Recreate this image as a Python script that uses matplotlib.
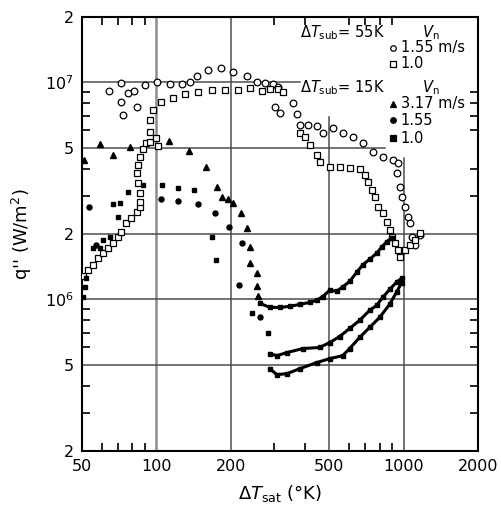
import matplotlib

matplotlib.use("Agg")

import matplotlib.pyplot as plt
from matplotlib.ticker import FixedFormatter, FixedLocator, NullFormatter


OUT_PATH = "out.png"

# dT_sub = 55 K, V_n = 1.55 m/s  (open circles)
SUB55_V155_DT = [
    64.3, 71.9, 71.9, 73.2, 76.7, 81.1, 83.4, 89.9, 100.5, 113.4,
    126.8, 136.6, 145.8, 161.5, 182.2, 203.7, 232.1, 254.9, 274.6, 295.8,
    309.8, 301.3, 315.5, 356.0, 369.5, 380.0, 409.4, 445.2, 470.6, 516.5,
    566.8, 621.9, 682.6, 749.3, 822.5, 902.7, 945.7, 936.9, 963.4, 981.5,
    1009, 1038, 1057, 1077, 1108, 1160,
]
SUB55_V155_Q = [
    9.08e6, 9.89e6, 8.08e6, 7.04e6, 8.89e6, 9.08e6, 7.66e6, 9.68e6, 1.00e7, 9.79e6,
    9.79e6, 1.00e7, 1.066e7, 1.137e7, 1.16e7, 1.112e7, 1.066e7, 1.00e7, 9.89e6, 9.79e6,
    9.48e6, 7.66e6, 7.26e6, 7.99e6, 7.11e6, 6.39e6, 6.39e6, 6.32e6, 5.87e6, 6.19e6,
    5.87e6, 5.62e6, 5.28e6, 4.79e6, 4.54e6, 4.40e6, 4.26e6, 3.83e6, 3.30e6, 2.97e6,
    2.67e6, 2.40e6, 2.25e6, 1.94e6, 1.78e6, 1.98e6,
]

# dT_sub = 55 K, V_n = 1.0 m/s  (open squares)
SUB55_V100_DT = [
    50.5, 52.8, 55.4, 58.0, 60.8, 63.7, 66.7, 69.9, 71.9, 75.3,
    78.9, 83.4, 85.8, 85.8, 85.8, 84.2, 83.4, 84.2, 85.8, 88.2,
    90.7, 94.2, 99.5, 101.4, 94.2, 94.2, 96.8, 104.3, 116.6, 130.4,
    147.2, 167.6, 189.1, 213.4, 238.8, 267.0, 287.6, 309.8, 324.4, 380.0,
    398.1, 417.1, 445.2, 457.7, 502.3, 551.2, 604.9, 663.8, 695.4, 715.2,
    742.3, 763.3, 785.0, 822.5, 853.6, 877.8, 894.3, 919.6, 945.7, 963.4,
    1009, 1057, 1108, 1160,
]
SUB55_V100_Q = [
    1.28e6, 1.36e6, 1.44e6, 1.55e6, 1.63e6, 1.72e6, 1.82e6, 1.94e6, 2.04e6, 2.25e6,
    2.37e6, 2.53e6, 2.67e6, 2.81e6, 3.10e6, 3.44e6, 3.83e6, 4.17e6, 4.54e6, 4.95e6,
    5.28e6, 5.33e6, 5.56e6, 5.11e6, 5.93e6, 6.74e6, 7.42e6, 8.08e6, 8.43e6, 8.80e6,
    8.99e6, 9.18e6, 9.18e6, 9.18e6, 9.38e6, 9.08e6, 9.28e6, 9.28e6, 8.99e6, 5.87e6,
    5.62e6, 5.16e6, 4.64e6, 4.31e6, 4.08e6, 4.08e6, 4.04e6, 4.00e6, 3.75e6, 3.48e6,
    3.20e6, 2.97e6, 2.67e6, 2.50e6, 2.27e6, 2.09e6, 1.94e6, 1.82e6, 1.69e6, 1.56e6,
    1.69e6, 1.78e6, 1.87e6, 2.02e6,
]

# dT_sub = 15 K, V_n = 3.17 m/s  (filled triangles, then dense film-boiling trace)
SUB15_V317_DT = [
    50.9, 59.1, 66.7, 78.1, 112.4, 135.3, 158.6, 175.5, 183.9, 194.5,
    203.7, 219.4, 232.1, 238.8, 238.8, 254.9, 254.9, 257.3,
]
SUB15_V317_Q = [
    4.40e6, 5.22e6, 4.64e6, 5.05e6, 5.39e6, 4.84e6, 4.08e6, 3.30e6, 2.97e6, 2.90e6,
    2.78e6, 2.50e6, 2.13e6, 1.74e6, 1.47e6, 1.32e6, 1.15e6, 1.04e6,
]
SUB15_V317_FILM_DT = [
    262.1, 287.6, 315.5, 346.2, 380.0, 417.1, 445.2, 470.6, 502.3, 536.1,
    566.8, 604.9, 645.5, 682.6, 728.6, 777.7, 814.8, 853.6, 894.3,
]
SUB15_V317_FILM_Q = [
    9.58e5, 9.18e5, 9.18e5, 9.28e5, 9.48e5, 9.68e5, 9.89e5, 1.03e6, 1.10e6, 1.09e6,
    1.14e6, 1.21e6, 1.33e6, 1.44e6, 1.53e6, 1.63e6, 1.74e6, 1.84e6, 1.92e6,
]

# dT_sub = 15 K, V_n = 1.55 m/s  (filled circles)
SUB15_V155_DT = [53.3, 57.0, 104.3, 122.2, 147.2, 172.3, 196.3, 221.5, 215.4, 262.1]
SUB15_V155_Q = [2.67e6, 1.78e6, 2.90e6, 2.84e6, 2.75e6, 2.50e6, 2.15e6, 1.82e6, 1.16e6, 8.25e5]
SUB15_V155_FILM_DT = [
    287.6, 307.0, 336.7, 390.7, 457.7, 502.3, 551.2, 604.9, 663.8, 728.6,
    777.7, 822.5, 877.8, 936.9, 981.5,
]
SUB15_V155_FILM_Q = [
    5.62e5, 5.50e5, 5.68e5, 5.93e5, 6.00e5, 6.32e5, 6.74e5, 7.34e5, 8.00e5, 8.89e5,
    9.38e5, 1.02e6, 1.11e6, 1.20e6, 1.25e6,
]

# dT_sub = 15 K, V_n = 1.0 m/s  (filled squares)
SUB15_V100_DT = [
    50.5, 51.4, 51.9, 55.4, 59.1, 60.8, 64.9, 66.7, 71.2, 69.9,
    76.7, 88.2, 105.3, 122.2, 141.7, 167.6, 173.9, 243.3, 282.4,
]
SUB15_V100_Q = [
    1.02e6, 1.14e6, 1.26e6, 1.72e6, 1.72e6, 1.87e6, 1.94e6, 2.75e6, 2.78e6, 2.40e6,
    3.13e6, 3.37e6, 3.37e6, 3.27e6, 3.20e6, 1.94e6, 1.52e6, 8.61e5, 6.96e5,
]
SUB15_V100_FILM_DT = [
    287.6, 307.0, 336.7, 380.0, 445.2, 502.3, 566.8, 604.9, 663.8, 728.6,
    799.8, 877.8, 936.9, 981.5,
]
SUB15_V100_FILM_Q = [
    4.79e5, 4.50e5, 4.54e5, 4.79e5, 5.11e5, 5.33e5, 5.50e5, 5.93e5, 6.67e5, 7.42e5,
    8.25e5, 9.48e5, 1.08e6, 1.19e6,
]

X_TICKS = [50, 100, 200, 500, 1000, 2000]
X_TICK_LABELS = ["50", "100", "200", "500", "1000", "2000"]
X_MINOR = [60, 70, 80, 90, 300, 400, 600, 700, 800, 900]

Y_TICKS = [2e5, 5e5, 1e6, 2e6, 5e6, 1e7, 2e7]
Y_TICK_LABELS = ["2", "5", r"$10^6$", "2", "5", r"$10^7$", "2"]
Y_MINOR = [3e5, 4e5, 6e5, 7e5, 8e5, 9e5, 3e6, 4e6, 6e6, 7e6, 8e6, 9e6]


def draw_grid(ax) -> None:
    grid_style = dict(color="0.3", linewidth=1.1, zorder=1)
    ax.axvline(100, color="0.55", linewidth=1.8, zorder=1)
    ax.axvline(200, **grid_style)
    ax.axvline(500, ymax=0.77, **grid_style)
    ax.axvline(1000, ymax=0.675, **grid_style)
    ax.axhline(1e7, xmax=0.55, **grid_style)
    ax.axhline(5e6, xmax=0.765, **grid_style)
    ax.axhline(2e6, **grid_style)
    ax.axhline(1e6, **grid_style)
    ax.axhline(5e5, **grid_style)


def draw_key(ax) -> None:
    t = ax.transAxes
    fs = 10.5
    ax.text(0.55, 0.965, r"$\Delta T_{\rm sub}$= 55K", transform=t, fontsize=fs, va="center")
    ax.text(0.88, 0.965, r"$V_{\rm n}$", transform=t, fontsize=fs, va="center", ha="center")
    ax.text(0.55, 0.838, r"$\Delta T_{\rm sub}$= 15K", transform=t, fontsize=fs, va="center")
    ax.text(0.88, 0.838, r"$V_{\rm n}$", transform=t, fontsize=fs, va="center", ha="center")

    rows = [
        (0.929, "o", "white", "1.55 m/s"),
        (0.892, "s", "white", "1.0"),
        (0.800, "^", "black", "3.17 m/s"),
        (0.762, "o", "black", "1.55"),
        (0.721, "s", "black", "1.0"),
    ]
    for y, marker, face, label in rows:
        ax.plot([0.785], [y], marker=marker, mfc=face, mec="black", ms=4,
                mew=0.9, transform=t, clip_on=False, zorder=5)
        ax.text(0.805, y, label, transform=t, fontsize=fs, va="center")


def main() -> None:
    fig = plt.figure(figsize=(5.01, 5.13), dpi=100)
    ax = fig.add_axes([82 / 501, 1 - 451 / 513, 396 / 501, 434 / 513])

    ax.set_xscale("log")
    ax.set_yscale("log")
    ax.set_xlim(50, 2000)
    ax.set_ylim(2e5, 2e7)

    draw_grid(ax)

    open_style = dict(linestyle="none", mfc="white", mec="black", mew=0.9, zorder=3)
    ax.plot(SUB55_V155_DT, SUB55_V155_Q, marker="o", ms=4.8, **open_style)
    ax.plot(SUB55_V100_DT, SUB55_V100_Q, marker="s", ms=4.2, **open_style)

    ax.plot(SUB15_V317_DT, SUB15_V317_Q, "^", color="black", ms=4.5, zorder=3)
    ax.plot(SUB15_V155_DT, SUB15_V155_Q, "o", color="black", ms=3.6, zorder=3)
    ax.plot(SUB15_V100_DT, SUB15_V100_Q, "s", color="black", ms=3.4, zorder=3)

    for dt, q in [
        (SUB15_V317_FILM_DT, SUB15_V317_FILM_Q),
        (SUB15_V155_FILM_DT, SUB15_V155_FILM_Q),
        (SUB15_V100_FILM_DT, SUB15_V100_FILM_Q),
    ]:
        ax.plot(dt, q, "-", color="black", lw=2.2, marker="s", ms=2.2, zorder=3)

    ax.xaxis.set_major_locator(FixedLocator(X_TICKS))
    ax.xaxis.set_major_formatter(FixedFormatter(X_TICK_LABELS))
    ax.xaxis.set_minor_locator(FixedLocator(X_MINOR))
    ax.xaxis.set_minor_formatter(NullFormatter())
    ax.yaxis.set_major_locator(FixedLocator(Y_TICKS))
    ax.yaxis.set_major_formatter(FixedFormatter(Y_TICK_LABELS))
    ax.yaxis.set_minor_locator(FixedLocator(Y_MINOR))
    ax.yaxis.set_minor_formatter(NullFormatter())

    ax.tick_params(which="major", length=0, labelsize=11.5, pad=6)
    ax.tick_params(which="minor", direction="in", length=6, width=1.2,
                   top=True, right=True)

    for spine in ax.spines.values():
        spine.set_linewidth(1.5)

    ax.set_xlabel(r"$\Delta T_{\rm sat}$ (°K)", fontsize=13, labelpad=6)
    ax.set_ylabel("q'' (W/m$^2$)", fontsize=13, labelpad=8)

    draw_key(ax)

    fig.savefig(OUT_PATH, dpi=100)
    plt.close(fig)


if __name__ == "__main__":
    main()
